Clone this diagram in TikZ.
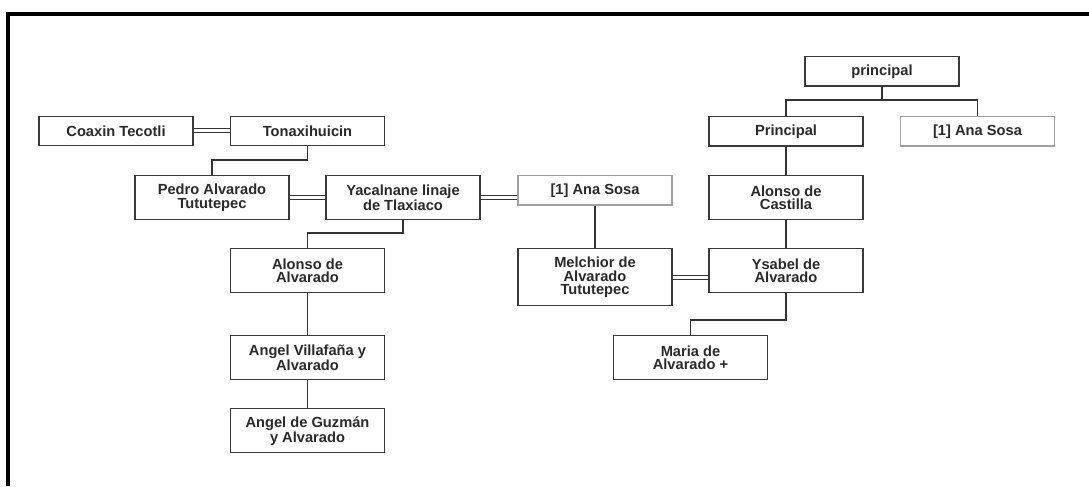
\documentclass[tikz,border=0pt]{standalone}
\usepackage{fontspec}
\setmainfont{Liberation Sans}
\definecolor{boxc}{HTML}{3A3A3A}
\definecolor{linec}{HTML}{333333}
\definecolor{txt}{HTML}{2A2A2A}
\definecolor{grayb}{HTML}{A0A0A0}
\begin{document}
\begin{tikzpicture}[x=0.75pt,y=-0.75pt,
  box/.style={draw=boxc, line width=1.1pt, fill=white, minimum width=115.5pt,
    inner sep=0pt, align=center, text=txt, anchor=north,
    font=\bfseries\fontsize{11}{10.1}\selectfont},
  hone/.style={minimum height=22pt},
  htwo/.style={minimum height=33pt},
  hthree/.style={minimum height=42.75pt},
  gbox/.style={box, draw=grayb},
  link/.style={draw=linec, line width=1.1pt},
  marr/.style={draw=linec, line width=0.75pt, double=white, double distance=2.2pt}]
\useasboundingbox (0,0) rectangle (1089,486);
% frame
\fill[black] (6,12) rectangle (1089,16);
\fill[black] (6,12) rectangle (10,486);
% left family
\node[box,hone] (coax) at (116,115.5) {Coaxin Tecotli};
\node[box,hone] (tonax) at (307.5,115.5) {Tonaxihuicin};
\node[box,htwo] (pedro) at (212,175) {Pedro Alvarado\\Tututepec};
\node[box,htwo] (yacal) at (403,175) {Yacalnane linaje\\de Tlaxiaco};
\node[gbox,hone] (anaA) at (595,175) {[1] Ana Sosa};
\node[box,htwo] (alonso) at (307.5,248) {Alonso de\\Alvarado};
\node[box,htwo] (angelv) at (307.5,335) {Angel Villafaña y\\Alvarado};
\node[box,htwo] (angelg) at (307.5,408) {Angel de Guzmán\\y Alvarado};
\node[box,hthree] (melch) at (595,248) {Melchior de\\Alvarado\\Tututepec};
% right family
\node[box,hone] (princ0) at (882,56) {principal};
\node[box,hone] (princ) at (786,116) {Principal};
\node[gbox,hone] (anaB) at (977.5,116) {[1] Ana Sosa};
\node[box,htwo] (castilla) at (786,175) {Alonso de\\Castilla};
\node[box,htwo] (ysabel) at (786,248) {Ysabel de\\Alvarado};
\node[box,htwo] (maria) at (690.5,335) {Maria de\\Alvarado +};
% coordinates for elbows
\coordinate (k1) at (307.5,160);
\coordinate (k2) at (403,233);
\coordinate (k3) at (882,100);
\coordinate (k4) at (786,320);
% marriages
\draw[marr] (coax.east) -- (tonax.west);
\draw[marr] (pedro.east) -- (yacal.west);
\draw[marr] (yacal.east) -- (yacal.east -| anaA.west);
\draw[marr] (melch.east) -- (melch.east -| ysabel.west);
% descent
\draw[link] (tonax.south) -- (k1) -| (pedro.north);
\draw[link] (yacal.south) -- (k2) -| (alonso.north);
\draw[link] (alonso.south) -- (angelv.north);
\draw[link] (angelv.south) -- (angelg.north);
\draw[link] (anaA.south) -- (melch.north);
\draw[link] (princ0.south) -- (k3);
\draw[link] (princ.north) |- (k3) -| (anaB.north);
\draw[link] (princ.south) -- (castilla.north);
\draw[link] (castilla.south) -- (ysabel.north);
\draw[link] (ysabel.south) -- (k4) -| (maria.north);
\end{tikzpicture}
\end{document}
